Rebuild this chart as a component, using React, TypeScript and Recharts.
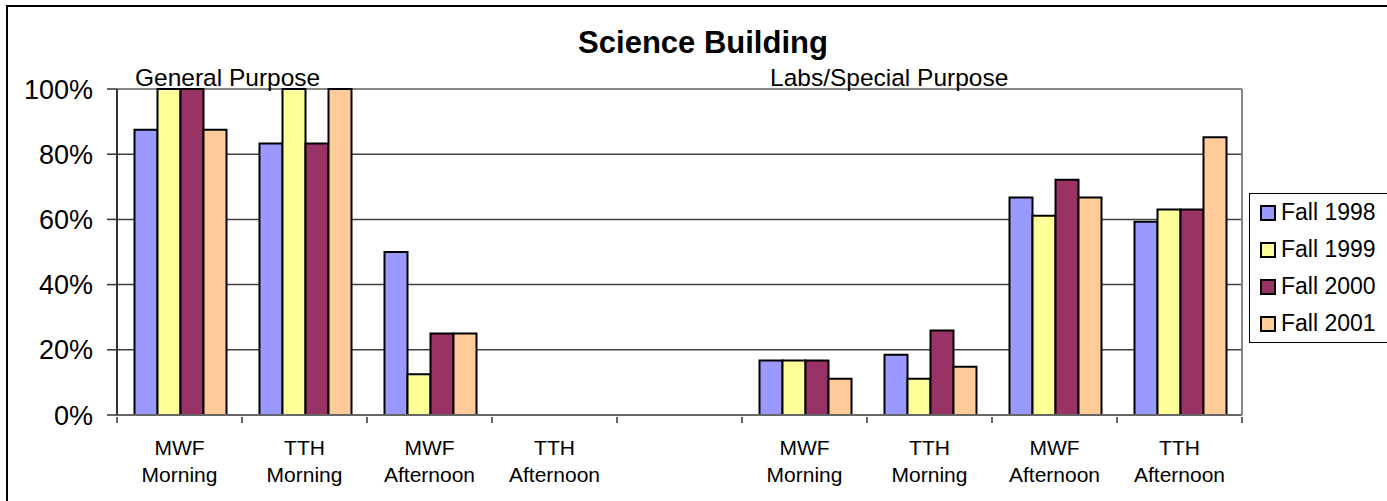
import React from 'react';
import {
  BarChart,
  Bar,
  XAxis,
  YAxis,
  Legend,
  CartesianGrid,
} from 'recharts';

const categories = [
  'MWF Morning',
  'TTH Morning',
  'MWF Afternoon',
  'TTH Afternoon',
  '',
  'MWF Morning',
  'TTH Morning',
  'MWF Afternoon',
  'TTH Afternoon',
];

const fall1998 = [87.5, 83.3, 50, 0, null, 16.7, 18.5, 66.7, 59.3];
const fall1999 = [100, 100, 12.5, 0, null, 16.7, 11.1, 61.1, 63.0];
const fall2000 = [100, 83.3, 25, 0, null, 16.7, 25.9, 72.2, 63.0];
const fall2001 = [87.5, 100, 25, 0, null, 11.1, 14.8, 66.7, 85.2];

const yTicks = [0, 20, 40, 60, 80, 100];

const series = [
  { key: 'f1998', name: 'Fall 1998', color: '#9999FF', values: fall1998 },
  { key: 'f1999', name: 'Fall 1999', color: '#FFFF99', values: fall1999 },
  { key: 'f2000', name: 'Fall 2000', color: '#993366', values: fall2000 },
  { key: 'f2001', name: 'Fall 2001', color: '#FFCC99', values: fall2001 },
];

const data = categories.map((label, i) => {
  const row: any = { label };
  series.forEach((s) => {
    row[s.key] = s.values[i];
  });
  return row;
});

const FONT = '"Liberation Sans", Arial, sans-serif';

// category labels sit on two lines, ticks go on the band edges
const XTick = (props: any) => {
  const { x, y, payload, index } = props;
  const half =
    payload && payload.offset
      ? payload.offset
      : props.width
      ? props.width / categories.length / 2
      : 0;
  const lines = String(payload.value).split(' ').filter(Boolean);
  return (
    <g>
      <line x1={x - half} x2={x - half} y1={y} y2={y + 6} stroke="#333" strokeWidth={1.5} />
      {index === categories.length - 1 && (
        <line x1={x + half} x2={x + half} y1={y} y2={y + 6} stroke="#333" strokeWidth={1.5} />
      )}
      <text textAnchor="middle" fontSize={21} fontFamily={FONT} fill="#000">
        {lines.map((l, i) => (
          <tspan key={i} x={x} y={y + 38 + i * 27}>
            {l}
          </tspan>
        ))}
      </text>
    </g>
  );
};

const renderLegend = (props: any) => {
  const { payload } = props;
  return (
    <div
      style={{
        border: '1px solid #000',
        background: '#fff',
        width: 170,
        height: 150,
        boxSizing: 'border-box',
        fontFamily: FONT,
        fontSize: 23,
        color: '#000',
      }}
    >
      {payload.map((p: any) => (
        <div
          key={p.value}
          style={{ height: 37, display: 'flex', alignItems: 'center', paddingLeft: 10 }}
        >
          <span
            style={{
              display: 'inline-block',
              width: 12,
              height: 12,
              background: p.color,
              border: '2px solid #000',
              marginRight: 5,
            }}
          />
          <span>{p.value}</span>
        </div>
      ))}
    </div>
  );
};

const App: React.FC = () => {
  return (
    <div
      style={{
        position: 'absolute',
        left: 0,
        top: 0,
        width: 1387,
        height: 501,
        overflow: 'hidden',
        background: '#fff',
        fontFamily: FONT,
      }}
    >
      <div
        style={{
          position: 'absolute',
          left: 6,
          top: 5,
          width: 1500,
          height: 600,
          borderLeft: '2px solid #000',
          borderTop: '2px solid #000',
        }}
      />
      <div style={{ position: 'absolute', left: 0, top: 0 }}>
        <BarChart
          width={1387}
          height={501}
          data={data}
          margin={{ top: 89, right: 0, left: 0, bottom: 0 }}
          barCategoryGap="14%"
          barGap={0}
        >
          <CartesianGrid
            horizontal
            vertical={false}
            horizontalValues={[20, 40, 60, 80]}
            stroke="#404040"
            strokeWidth={1.5}
          />
          <CartesianGrid
            horizontal
            vertical={false}
            horizontalValues={[100]}
            stroke="#888"
            strokeWidth={2}
          />
          <XAxis
            dataKey="label"
            interval={0}
            height={86}
            tickSize={0}
            tickLine={false}
            axisLine={{ stroke: '#666', strokeWidth: 2 }}
            tick={<XTick />}
          />
          <YAxis
            domain={[0, 100]}
            ticks={yTicks}
            width={117}
            tickSize={10}
            tickMargin={14}
            tickFormatter={(v) => `${v}%`}
            tick={{ fontSize: 27, fill: '#000', fontFamily: FONT }}
            tickLine={{ stroke: '#333', strokeWidth: 1.5 }}
            axisLine={{ stroke: '#333', strokeWidth: 2 }}
          />
          <YAxis
            yAxisId="right"
            orientation="right"
            domain={[0, 100]}
            width={1}
            tick={false}
            tickLine={false}
            axisLine={{ stroke: '#888', strokeWidth: 2 }}
          />
          <Legend
            layout="vertical"
            align="right"
            verticalAlign="top"
            wrapperStyle={{ left: 1249, right: 'auto', top: 193, width: 144 }}
            content={renderLegend}
          />
          {series.map((s) => (
            <Bar
              key={s.key}
              dataKey={s.key}
              name={s.name}
              fill={s.color}
              stroke="#000"
              strokeWidth={2}
              isAnimationActive={false}
            />
          ))}
        </BarChart>
      </div>
      <svg
        width={1387}
        height={501}
        style={{ position: 'absolute', left: 0, top: 0, pointerEvents: 'none' }}
      >
        <text x={703} y={53} textAnchor="middle" fontSize={31} fontWeight="bold" fontFamily={FONT}>
          Science Building
        </text>
        <text x={135} y={86} fontSize={24.5} fontFamily={FONT}>
          General Purpose
        </text>
        <text x={770} y={86} fontSize={24.5} fontFamily={FONT}>
          Labs/Special Purpose
        </text>
      </svg>
    </div>
  );
};

export default App;
